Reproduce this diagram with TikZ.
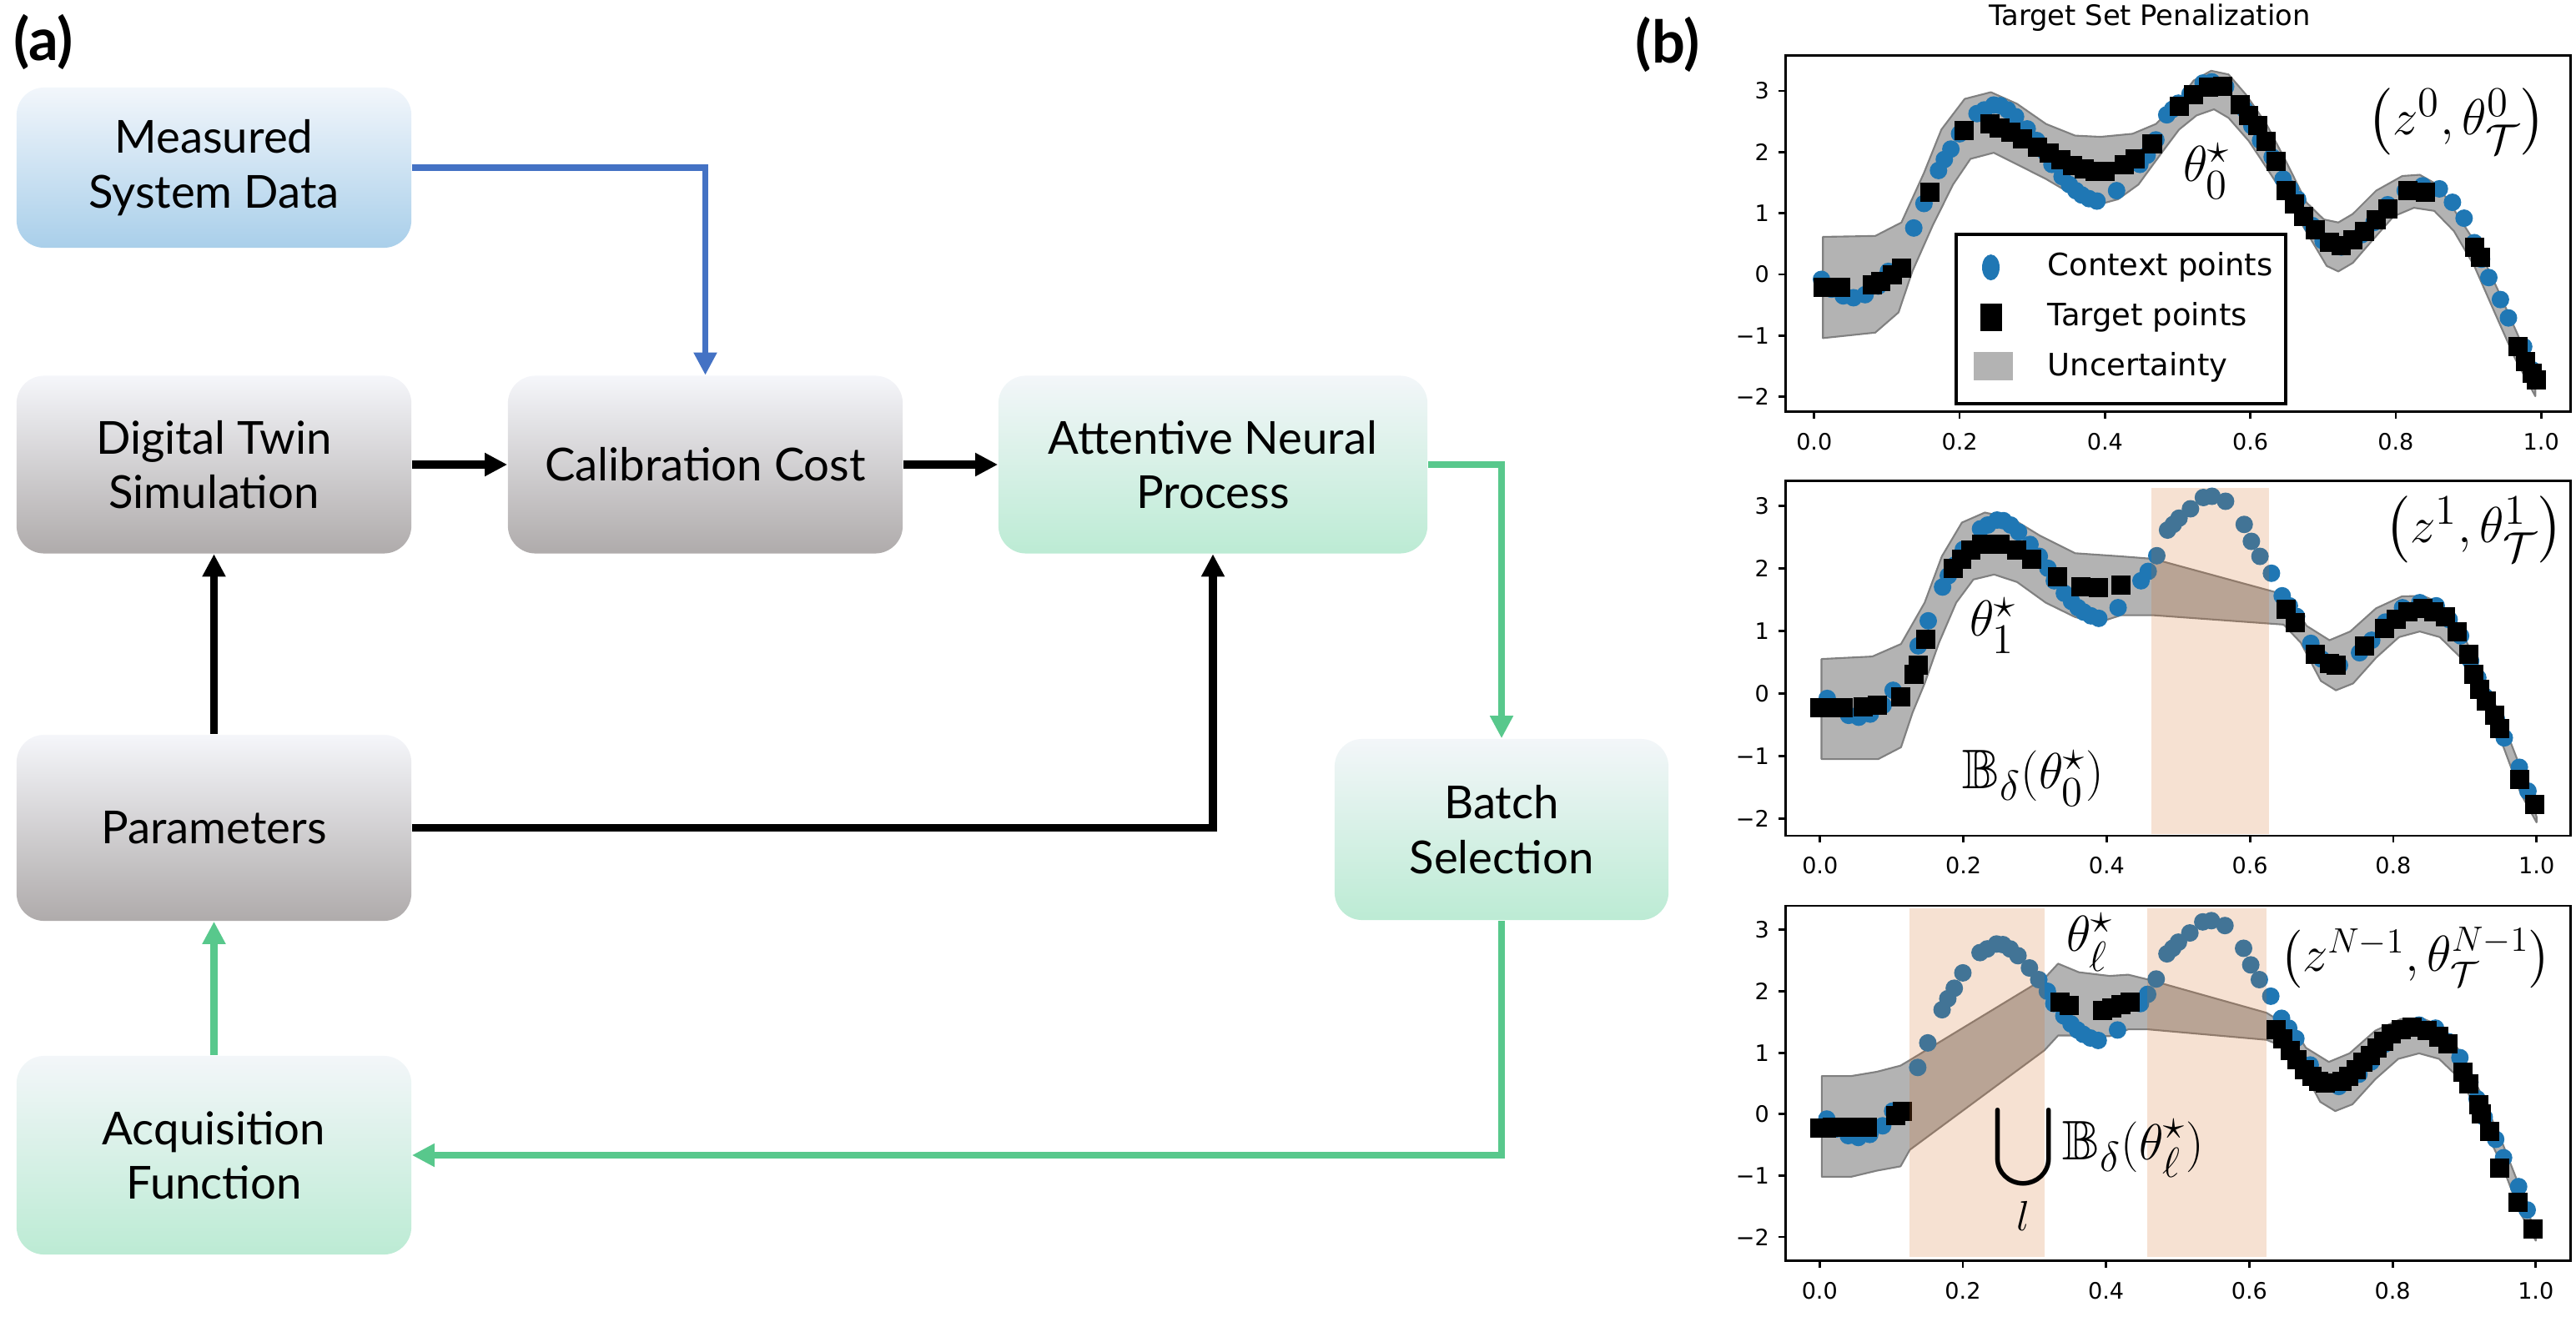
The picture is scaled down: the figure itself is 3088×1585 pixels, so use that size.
\documentclass[tikz,border=0pt]{standalone}
\usepackage{amssymb}
\usepackage[no-math]{fontspec}
\setmainfont{Lato}
\newfontfamily\plotfont{DejaVu Sans}
\usetikzlibrary{arrows.meta}

\definecolor{ctxblue}{HTML}{1F77B4}
\definecolor{linkblue}{HTML}{4472C4}
\definecolor{linkgreen}{HTML}{58C88C}
\definecolor{graytop}{HTML}{F5F6FA}
\definecolor{graybot}{HTML}{AFABAB}
\definecolor{bluetop}{HTML}{F2F6FB}
\definecolor{bluebot}{HTML}{A9CFEA}
\definecolor{greentop}{HTML}{F3F6F9}
\definecolor{greenbot}{HTML}{BCEBD4}
\definecolor{bandgray}{RGB}{179,179,179}
\definecolor{penaltycol}{RGB}{210,105,30}

% data of the three panels
\newcommand\ctxpoints{0.01/-0.08, 0.024/-0.24, 0.04/-0.35, 0.054/-0.38, 0.07/-0.33, 0.088/-0.19, 0.102/0.05,
  0.137/0.76, 0.151/1.16, 0.171/1.7, 0.179/1.88, 0.188/2.05, 0.2/2.3, 0.224/2.63, 0.234/2.69, 0.247/2.77,
  0.256/2.76, 0.266/2.69, 0.277/2.58, 0.293/2.38, 0.306/2.19, 0.318/2.0, 0.327/1.8, 0.341/1.6, 0.351/1.47,
  0.36/1.37, 0.368/1.3, 0.378/1.24, 0.389/1.2, 0.416/1.37, 0.448/1.8, 0.458/1.95, 0.47/2.2, 0.485/2.61,
  0.493/2.7, 0.501/2.8, 0.517/2.95, 0.535/3.13, 0.547/3.15, 0.566/3.07, 0.592/2.7, 0.602/2.43, 0.614/2.19,
  0.63/1.92, 0.645/1.56, 0.655/1.4, 0.665/1.23, 0.685/0.8, 0.7/0.55, 0.725/0.45, 0.753/0.65, 0.77/0.85,
  0.789/1.14, 0.813/1.37, 0.837/1.45, 0.86/1.4, 0.878/1.18, 0.894/0.92, 0.908/0.52, 0.918/0.25, 0.928/-0.05,
  0.944/-0.41, 0.955/-0.71, 0.976/-1.18, 0.988/-1.56}
\newcommand\tgtzero{0.012/-0.21, 0.024/-0.21, 0.036/-0.21, 0.08/-0.17, 0.092/-0.11, 0.108/0, 0.12/0.1,
  0.159/1.34, 0.206/2.35, 0.242/2.46, 0.255/2.4, 0.271/2.32, 0.287/2.22, 0.307/2.08, 0.323/1.99, 0.339/1.87,
  0.355/1.78, 0.371/1.73, 0.386/1.69, 0.4/1.69, 0.426/1.8, 0.442/1.89, 0.465/2.13, 0.502/2.75, 0.522/2.94,
  0.542/3.06, 0.562/3.08, 0.586/2.77, 0.598/2.6, 0.61/2.43, 0.622/2.18, 0.635/1.85, 0.649/1.37, 0.661/1.16,
  0.673/0.95, 0.689/0.73, 0.709/0.52, 0.725/0.47, 0.741/0.57, 0.757/0.71, 0.773/0.9, 0.789/1.07, 0.817/1.37,
  0.841/1.34, 0.908/0.45, 0.916/0.28, 0.968/-1.18, 0.978/-1.42, 0.988/-1.61, 0.994/-1.73}
\newcommand\tgtone{0/-0.23, 0.016/-0.23, 0.032/-0.23, 0.06/-0.21, 0.08/-0.19, 0.113/-0.05, 0.131/0.3,
  0.137/0.45, 0.148/0.87, 0.186/2.0, 0.198/2.15, 0.21/2.29, 0.226/2.38, 0.251/2.38, 0.275/2.29, 0.295/2.15,
  0.331/1.87, 0.364/1.71, 0.388/1.69, 0.42/1.73, 0.651/1.34, 0.663/1.13, 0.691/0.62, 0.711/0.48, 0.72/0.45,
  0.76/0.76, 0.788/1.04, 0.804/1.18, 0.82/1.31, 0.841/1.36, 0.857/1.31, 0.873/1.22, 0.889/0.99, 0.905/0.62,
  0.913/0.3, 0.921/0.06, 0.93/-0.12, 0.942/-0.35, 0.948/-0.56, 0.976/-1.37, 0.998/-1.77}
\newcommand\tgtlast{0/-0.23, 0.01/-0.23, 0.018/-0.22, 0.028/-0.22, 0.037/-0.22, 0.047/-0.22, 0.057/-0.21,
  0.067/-0.21, 0.106/-0.02, 0.116/0.05, 0.336/1.82, 0.349/1.77, 0.395/1.69, 0.408/1.73, 0.421/1.78, 0.434/1.82,
  0.637/1.38, 0.647/1.23, 0.657/1.04, 0.667/0.88, 0.677/0.73, 0.687/0.62, 0.697/0.54, 0.706/0.5, 0.729/0.54,
  0.739/0.62, 0.749/0.73, 0.759/0.85, 0.769/0.96, 0.778/1.08, 0.788/1.19, 0.798/1.31, 0.812/1.38, 0.827/1.41,
  0.848/1.36, 0.865/1.26, 0.877/1.14, 0.898/0.68, 0.907/0.49, 0.92/0.15, 0.924/0.01, 0.936/-0.28, 0.949/-0.88,
  0.975/-1.44, 0.996/-1.87}

\begin{document}
\begin{tikzpicture}[x=0.01cm, y=-0.01cm,
    box/.style={rounded corners=0.33cm, align=center, inner sep=0pt, minimum width=4.73cm, minimum height=2.13cm,
      font=\fontsize{15.5}{18.6}\selectfont},
    graybox/.style={box, top color=graytop, bottom color=graybot},
    bluebox/.style={box, top color=bluetop, bottom color=bluebot},
    greenbox/.style={box, top color=greentop, bottom color=greenbot},
    link/.style={line width=2.6pt, -{Triangle[length=7.7pt, width=7.5pt]}},
    bluelink/.style={link, line width=2pt, draw=linkblue},
    greenlink/.style={link, line width=2.3pt, draw=linkgreen},
    panel/.style={font=\bfseries\fontsize{20}{24}\selectfont, inner sep=0pt},
    frame/.style={line width=0.8pt},
    tick/.style={font=\plotfont\fontsize{7.7}{9}\selectfont, inner sep=0pt},
    legendtext/.style={font=\plotfont\fontsize{10.5}{12}\selectfont, inner sep=0pt, anchor=west},
    band/.style={fill=bandgray, draw=black!50, line width=0.6pt, line join=round},
    penalty/.style={fill=penaltycol, fill opacity=0.2},
    mathlabel/.style={font=\fontsize{19}{23}\selectfont, inner sep=0pt}]

    \useasboundingbox (0,0) rectangle (3088,1585);

    % (a) flow chart
    \node[panel] (tag-a) at (52,50) {(a)};
    \node[bluebox, minimum height=1.92cm] (meas) at (256.5,201) {Measured\\System Data};
    \node[graybox] (dts) at (256.5,557) {Digital Twin\\Simulation};
    \node[graybox] (cal) at (845.5,557) {Calibration Cost};
    \node[greenbox, minimum width=5.14cm] (anp) at (1454,557) {Attentive Neural\\Process};
    \node[graybox, minimum height=2.23cm] (par) at (256.5,992.5) {Parameters};
    \node[greenbox, minimum width=4cm, minimum height=2.17cm] (bat) at (1800,994.5) {Batch\\Selection};
    \node[greenbox, minimum height=2.38cm] (acq) at (256.5,1385) {Acquisition\\Function};

    \draw[bluelink] (meas.east) -| (cal.north);
    \draw[link] (dts) -- (cal);
    \draw[link] (cal) -- (anp);
    \draw[link] (par) -- (dts);
    \draw[link] (par.east) -| (anp.south);
    \draw[greenlink] (anp.east) -| (bat.north);
    \draw[greenlink] (bat.south) |- (acq.east);
    \draw[greenlink] (acq) -- (par);

    % (b) target set penalization
    \node[panel] (tag-b) at (1999,53) {(b)};
    \node[font=\plotfont\fontsize{9.6}{11}\selectfont, inner sep=0pt] (title) at (2577,21) {Target Set Penalization};

    % first panel
    \begin{scope}[shift={(21.735cm,-3.289cm)}, x=8.709cm, y=0.733cm]
    \path[band] plot coordinates {(0.012,0.615) (0.084,0.63) (0.12,0.85) (0.151,1.66) (0.175,2.37) (0.207,2.87)
      (0.243,2.98) (0.279,2.79) (0.319,2.46) (0.359,2.27) (0.394,2.25) (0.438,2.3) (0.47,2.46) (0.498,2.79)
      (0.522,3.17) (0.546,3.33) (0.57,3.27) (0.594,2.94) (0.622,2.46) (0.649,1.85) (0.677,1.18) (0.701,0.9)
      (0.721,0.85) (0.741,0.99) (0.773,1.37) (0.809,1.61) (0.833,1.63) (0.857,1.47) (0.884,0.99) (0.912,0.47)
      (0.94,-0.24) (0.968,-0.99) (0.992,-1.66) (0.992,-1.99) (0.964,-1.37) (0.936,-0.62) (0.908,0.14) (0.88,0.71)
      (0.853,1.04) (0.825,1.09) (0.797,0.95) (0.765,0.52) (0.741,0.19) (0.721,0.05) (0.705,0.14) (0.681,0.62)
      (0.653,1.18) (0.622,1.75) (0.598,2.18) (0.57,2.56) (0.55,2.7) (0.526,2.6) (0.502,2.37) (0.478,1.99)
      (0.446,1.47) (0.418,1.23) (0.39,1.14) (0.359,1.28) (0.319,1.56) (0.279,1.8) (0.247,1.99) (0.215,1.89)
      (0.191,1.47) (0.163,0.8) (0.135,0.05) (0.116,-0.62) (0.084,-0.95) (0.012,-1.04)} -- cycle;
    \foreach \x/\y in \ctxpoints {\fill[ctxblue] (\x,\y) circle[radius=0.105cm];}
    \foreach \x/\y in \tgtzero {\fill (\x,\y) ++(-0.115cm,-0.115cm) rectangle ++(0.23cm,0.23cm);}
    \draw[frame] (-0.0396,-2.244) rectangle (1.0409,3.578);
    \foreach \t [count=\i] in {0.0,0.2,0.4,0.6,0.8,1.0}
      \draw[frame] (\t,-2.244) -- ++(0,-0.08cm) node[tick, anchor=north, yshift=-0.16cm] (xa-\i) {\t};
    \foreach \t/\l [count=\i] in {3/3,2/2,1/1,0/0,-1/−1,-2/−2}
      \draw[frame] (-0.0396,\t) -- ++(-0.08cm,0) node[tick, anchor=east, xshift=-0.1cm] (ya-\i) {\l};
    \end{scope}

    \draw[line width=1pt, fill=white] (2345,281) rectangle (2740,484);
    \fill[ctxblue] (2386.5,320.6) ellipse[x radius=0.105cm, y radius=0.155cm];
    \fill (2373.5,364) rectangle (2399.5,397);
    \fill[bandgray] (2366,422) rectangle (2413,456);
    \node[legendtext] (leg-ctx) at (2454,320) {Context points};
    \node[legendtext] (leg-tgt) at (2454,380) {Target points};
    \node[legendtext] (leg-unc) at (2454,440) {Uncertainty};

    % second panel
    \begin{scope}[shift={(21.805cm,-8.309cm)}, x=8.584cm, y=0.75cm]
    \path[band] plot coordinates {(0.002,0.55) (0.073,0.59) (0.113,0.79) (0.146,1.45) (0.17,2.19) (0.198,2.73)
      (0.23,2.89) (0.267,2.8) (0.307,2.52) (0.356,2.24) (0.42,2.19) (0.465,2.15) (0.635,1.62) (0.659,1.45)
      (0.679,1.08) (0.711,0.85) (0.74,0.99) (0.776,1.36) (0.812,1.55) (0.841,1.56) (0.865,1.45) (0.893,1.04)
      (0.921,0.39) (0.954,-0.49) (0.982,-1.32) (1.0,-1.97) (1.0,-2.06) (0.978,-1.6) (0.954,-0.86) (0.926,-0.17)
      (0.898,0.53) (0.865,0.9) (0.837,0.99) (0.808,0.9) (0.776,0.57) (0.744,0.16) (0.72,0.05) (0.699,0.2)
      (0.671,0.81) (0.647,1.1) (0.465,1.25) (0.42,1.25) (0.388,1.13) (0.356,1.22) (0.315,1.45) (0.275,1.78)
      (0.243,1.9) (0.214,1.82) (0.19,1.45) (0.166,0.81) (0.146,0.16) (0.129,-0.31) (0.113,-0.86) (0.081,-1.05)
      (0.002,-1.05)} -- cycle;
    \foreach \x/\y in \ctxpoints {\fill[ctxblue] (\x,\y) circle[radius=0.105cm];}
    \foreach \x/\y in \tgtone {\fill (\x,\y) ++(-0.115cm,-0.115cm) rectangle ++(0.23cm,0.23cm);}
    \fill[penalty] (0.463,-2.25) rectangle (0.627,3.28);
    \draw[frame] (-0.0483,-2.273) rectangle (1.0479,3.399);
    \foreach \t [count=\i] in {0.0,0.2,0.4,0.6,0.8,1.0}
      \draw[frame] (\t,-2.273) -- ++(0,-0.08cm) node[tick, anchor=north, yshift=-0.16cm] (xb-\i) {\t};
    \foreach \t/\l [count=\i] in {3/3,2/2,1/1,0/0,-1/−1,-2/−2}
      \draw[frame] (-0.0483,\t) -- ++(-0.08cm,0) node[tick, anchor=east, xshift=-0.1cm] (yb-\i) {\l};
    \end{scope}

    % third panel
    \begin{scope}[shift={(21.8cm,-13.35cm)}, x=8.58cm, y=0.736cm]
    \path[band] plot coordinates {(0.003,0.62) (0.044,0.62) (0.08,0.69) (0.113,0.79) (0.126,0.88) (0.314,2.21)
      (0.333,2.45) (0.362,2.31) (0.405,2.25) (0.431,2.27) (0.459,2.19) (0.624,1.65) (0.638,1.55) (0.659,1.45)
      (0.679,1.08) (0.711,0.85) (0.74,0.99) (0.776,1.36) (0.812,1.55) (0.841,1.56) (0.865,1.45) (0.893,1.04)
      (0.921,0.39) (0.954,-0.49) (0.982,-1.32) (1.0,-1.97) (1.0,-2.06) (0.978,-1.6) (0.954,-0.86) (0.926,-0.17)
      (0.898,0.53) (0.865,0.9) (0.837,0.99) (0.808,0.9) (0.776,0.57) (0.744,0.16) (0.72,0.05) (0.699,0.2)
      (0.671,0.81) (0.647,1.1) (0.624,1.21) (0.459,1.38) (0.431,1.38) (0.405,1.27) (0.362,1.28) (0.333,1.28)
      (0.314,1.04) (0.126,-0.58) (0.113,-0.85) (0.08,-0.92) (0.044,-1.02) (0.003,-1.02)} -- cycle;
    \foreach \x/\y in \ctxpoints {\fill[ctxblue] (\x,\y) circle[radius=0.105cm];}
    \foreach \x/\y in \tgtlast {\fill (\x,\y) ++(-0.115cm,-0.115cm) rectangle ++(0.23cm,0.23cm);}
    \fill[penalty] (0.126,-2.33) rectangle (0.314,3.35);
    \fill[penalty] (0.458,-2.33) rectangle (0.624,3.35);
    \draw[frame] (-0.0478,-2.391) rectangle (1.049,3.391);
    \foreach \t [count=\i] in {0.0,0.2,0.4,0.6,0.8,1.0}
      \draw[frame] (\t,-2.391) -- ++(0,-0.08cm) node[tick, anchor=north, yshift=-0.16cm] (xc-\i) {\t};
    \foreach \t/\l [count=\i] in {3/3,2/2,1/1,0/0,-1/−1,-2/−2}
      \draw[frame] (-0.0478,\t) -- ++(-0.08cm,0) node[tick, anchor=east, xshift=-0.1cm] (yc-\i) {\l};
    \end{scope}

    % labels
    \node[mathlabel] (opt-0) at (2645,205) {$\theta^\star_0$};
    \node[mathlabel] (state-0) at (2945,146) {$\left(z^{0},\theta^{0}_{\mathcal{T}}\right)$};
    \node[mathlabel] (opt-1) at (2389,750) {$\theta^\star_1$};
    \node[mathlabel] (state-1) at (2966,635) {$\left(z^{1},\theta^{1}_{\mathcal{T}}\right)$};
    \node[mathlabel] (ball-0) at (2437,933) {$\mathbb{B}_\delta(\theta^\star_0)$};
    \node[mathlabel] (opt-l) at (2505,1130) {$\theta^\star_\ell$};
    \node[mathlabel, font=\fontsize{16.5}{20}\selectfont] (state-N) at (2896,1148)
      {$\left(z^{N-1},\theta^{N-1}_{\mathcal{T}}\right)$};
    \node[mathlabel] (ball-l) at (2515,1402) {$\displaystyle\bigcup_{l}\mathbb{B}_\delta(\theta^\star_\ell)$};
\end{tikzpicture}
\end{document}
